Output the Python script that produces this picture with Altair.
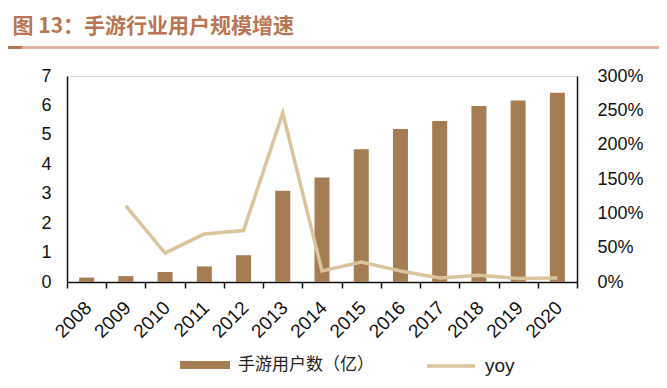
import altair as alt
import pandas as pd

years = ["2008", "2009", "2010", "2011", "2012", "2013", "2014",
         "2015", "2016", "2017", "2018", "2019", "2020"]
users = [0.15, 0.20, 0.34, 0.53, 0.91, 3.10, 3.55,
         4.51, 5.20, 5.47, 5.98, 6.17, 6.43]
yoy = [None, 1.11, 0.42, 0.70, 0.75, 2.46, 0.16,
       0.29, 0.16, 0.06, 0.10, 0.05, 0.06]

bar_name = "手游用户数（亿）"
line_name = "yoy"
title_text = "图 13：手游行业用户规模增速"

BAR = "#A67C52"
LINE = "#D9C49C"
TITLE = "#B97452"
FONT = "Liberation Sans"
CJK = "Noto Sans CJK SC"

df = pd.DataFrame({"year": years, "users": users, "yoy": yoy,
                   "s1": bar_name, "s2": line_name})

base = alt.Chart(df)

xaxis = alt.Axis(title=None, labelAngle=-45, labelFontSize=19, labelFont=FONT,
                 labelColor="#111", domainColor="#111", domainWidth=1.5,
                 tickBand="extent", tickColor="#111", tickWidth=1.5, tickSize=6,
                 labelPadding=10, labelOffset=-5)

bars = base.mark_bar(size=15).encode(
    x=alt.X("year:O", axis=xaxis, scale=alt.Scale(paddingInner=0, paddingOuter=0)),
    y=alt.Y("users:Q", scale=alt.Scale(domain=[0, 7], nice=False),
            axis=alt.Axis(title=None, orient="left", values=list(range(8)),
                          labelFontSize=18, labelFont=FONT, labelColor="#111",
                          domainColor="#111", domainWidth=1.5, ticks=False,
                          labelPadding=16, grid=False)),
    color=alt.Color("s1:N", scale=alt.Scale(range=[BAR]),
                    legend=alt.Legend(orient="none", legendX=113, legendY=264,
                                      title=None, padding=0,
                                      symbolType="M-1,-0.16H1V0.16H-1Z",
                                      symbolSize=2500, symbolStrokeWidth=0,
                                      labelFontSize=17, labelFont=CJK,
                                      labelColor="#222", labelOffset=8)),
)

line = base.mark_line(strokeWidth=3.5).encode(
    x=alt.X("year:O"),
    y=alt.Y("yoy:Q", scale=alt.Scale(domain=[0, 3], nice=False),
            axis=alt.Axis(title=None, orient="right", format=".0%",
                          values=[0, 0.5, 1, 1.5, 2, 2.5, 3],
                          labelFontSize=18, labelFont=FONT, labelColor="#111",
                          domainColor="#111", domainWidth=1.5, ticks=False,
                          labelPadding=20, grid=False)),
    stroke=alt.Stroke("s2:N", scale=alt.Scale(range=[LINE]),
                      legend=alt.Legend(orient="none", legendX=358, legendY=264,
                                        title=None, padding=0,
                                        symbolType="stroke", symbolSize=2300,
                                        symbolStrokeWidth=3.5,
                                        labelFontSize=19, labelFont=FONT,
                                        labelColor="#222", labelOffset=8)),
)

underline = alt.Chart(df).mark_rule(color="#DDB29C", strokeWidth=1.5).encode(
    x=alt.value(-59), x2=alt.value(592), y=alt.value(-28.5))
underline_dark = alt.Chart(df).mark_rule(color=TITLE, strokeWidth=3).encode(
    x=alt.value(-59), x2=alt.value(-45), y=alt.value(-28.5))

chart = alt.layer(bars, line, underline, underline_dark).resolve_scale(
    y="independent"
).properties(
    width=510, height=206,
    autosize=alt.AutoSizeParams(type="none"),
    padding={"left": 59, "top": 68, "right": 82, "bottom": 98},
    title=alt.TitleParams(text=title_text, anchor="start", dx=6, offset=9,
                          fontSize=21, font=CJK, fontWeight="bold", color=TITLE),
).configure_view(stroke=None).configure(background="white")

chart.save("out.html", embed_options={"renderer": "svg", "actions": False})
